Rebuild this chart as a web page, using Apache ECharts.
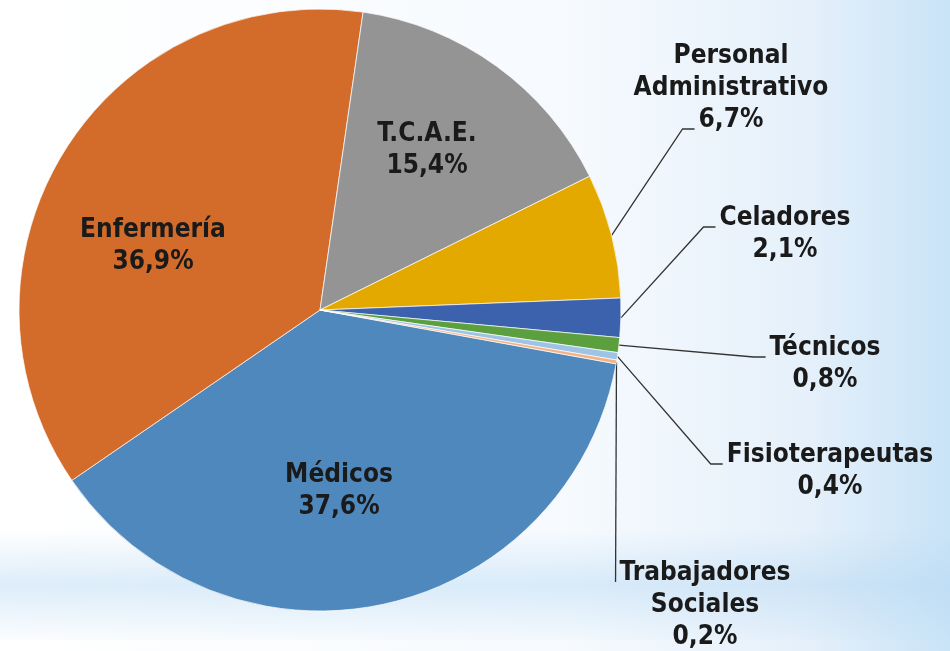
<!DOCTYPE html>
<html>
<head>
<meta charset="utf-8">
<script src="https://cdn.jsdelivr.net/npm/echarts@6/dist/echarts.min.js"></script>
<style>
html, body { margin: 0; padding: 0; }
#main { width: 950px; height: 651px; }
</style>
</head>
<body>
<div id="main"></div>
<script>
var categories = ['Médicos', 'Enfermería', 'T.C.A.E.', 'Personal Administrativo', 'Celadores', 'Técnicos', 'Fisioterapeutas', 'Trabajadores Sociales'];
var values = [37.6, 36.9, 15.4, 6.7, 2.1, 0.8, 0.4, 0.2];
var colors = ['#4f88bd', '#d36c2b', '#949494', '#e3a900', '#3c62ad', '#5c9f3e', '#9dc3e6', '#f4b183'];

// centre of each label block and the line index the leader attaches to (-1 = inside, no leader)
var labelPos = [
    [339, 491, -1],
    [153, 246, -1],
    [427, 150, -1],
    [731, 88, 2],
    [785, 234, 0],
    [825, 364, 0],
    [830, 471, 0],
    [705, 605, 0]
];

var FONT = 'DejaVu Sans Condensed';
var FONT_SIZE = 26;
var LH = 32;

var ctx = document.createElement('canvas').getContext('2d');
ctx.font = 'bold ' + FONT_SIZE + 'px "' + FONT + '"';

function labelText(i) {
    return categories[i].replace(' ', '\n') + '\n' + values[i].toFixed(1).replace('.', ',') + '%';
}

var dom = document.getElementById('main');
var chart = echarts.init(dom);

var data = categories.map(function (name, i) {
    var item = { name: name, value: values[i], itemStyle: { color: colors[i] } };
    if (labelPos[i][2] < 0) {
        item.label = { position: 'inside' };
        item.labelLine = { show: false };
    }
    return item;
});

chart.setOption({
    backgroundColor: {
        type: 'linear', x: 0, y: 0, x2: 1, y2: 0,
        colorStops: [
            { offset: 0, color: '#ffffff' },
            { offset: 0.6, color: '#f6fafe' },
            { offset: 0.85, color: '#e5f0fa' },
            { offset: 1, color: '#c9e3f7' }
        ]
    },
    graphic: [{
        type: 'rect',
        silent: true,
        shape: { x: 0, y: 530, width: 950, height: 110 },
        style: {
            fill: {
                type: 'linear', x: 0, y: 0, x2: 0, y2: 1,
                colorStops: [
                    { offset: 0, color: 'rgba(180,215,242,0)' },
                    { offset: 0.5, color: 'rgba(180,215,242,0.45)' },
                    { offset: 1, color: 'rgba(180,215,242,0.05)' }
                ]
            }
        }
    }],
    series: [{
        type: 'pie',
        center: [320, 310],
        radius: 301,
        startAngle: -10.3,
        clockwise: true,
        avoidLabelOverlap: false,
        minShowLabelAngle: 0,
        animation: false,
        itemStyle: { borderColor: '#ffffff', borderWidth: 0.7 },
        label: {
            show: true,
            position: 'outside',
            color: '#1a1a1a',
            fontFamily: FONT,
            fontSize: FONT_SIZE,
            fontWeight: 'bold',
            lineHeight: LH,
            align: 'center',
            formatter: function (p) { return labelText(p.dataIndex); }
        },
        labelLine: {
            show: true,
            length: 20,
            length2: 12,
            lineStyle: { color: '#333333', width: 1.3 }
        },
        labelLayout: function (p) {
            var pos = labelPos[p.dataIndex];
            var res = { x: pos[0], y: pos[1], align: 'center', verticalAlign: 'middle' };
            if (pos[2] >= 0) {
                var lines = labelText(p.dataIndex).split('\n');
                var k = pos[2];
                var w = ctx.measureText(lines[k]).width;
                var by = pos[1] + (k - (lines.length - 1) / 2) * LH + 9;
                var end = [pos[0] - w / 2 - 4, by];
                var start;
                if (p.labelLinePoints && p.labelLinePoints[0]) {
                    start = p.labelLinePoints[0];
                } else {
                    var cum = 0, total = 0;
                    values.forEach(function (v, j) { total += v; if (j < p.dataIndex) cum += v; });
                    var a = (-10.3 - 360 * (cum + values[p.dataIndex] / 2) / total) * Math.PI / 180;
                    start = [320 + 301 * Math.cos(a), 310 - 301 * Math.sin(a)];
                }
                var elbow = p.dataIndex === 7 ? end : [end[0] - 12, by];
                res.labelLinePoints = [start, elbow, end];
            }
            return res;
        },
        data: data
    }]
});
</script>
</body>
</html>
